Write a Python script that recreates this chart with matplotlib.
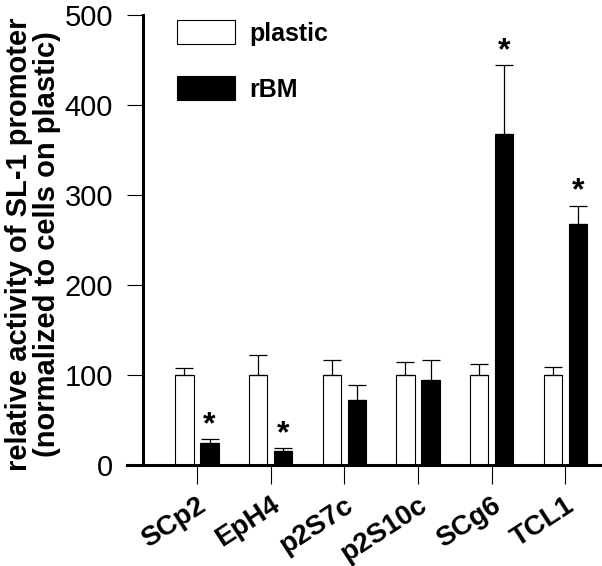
import numpy as np
import matplotlib
matplotlib.use("Agg")
import matplotlib.pyplot as plt
import matplotlib.transforms as mtransforms

plt.rcParams['font.family'] = ['Liberation Sans', 'DejaVu Sans']

cell_lines = ["SCp2", "EpH4", "p2S7c", "p2S10c", "SCg6", "TCL1"]
plastic = [100, 100, 100, 100, 100, 100]
plastic_err = [8, 22, 17, 14, 12, 9]
rbm = [25, 16, 72, 94, 368, 268]
rbm_err = [4, 3, 17, 23, 76, 20]
significant = [True, True, False, False, True, True]

fig = plt.figure(figsize=(6.02, 5.66), dpi=100)
ax = fig.add_axes([127 / 602, 1 - 465 / 566, 473 / 602, 450 / 566])

x = np.arange(len(cell_lines))
w = 0.25
off = 0.17
err_kw = dict(elinewidth=0.9, capsize=6.5, capthick=0.9, ecolor='black')
ax.bar(x - off, plastic, w, color='white', edgecolor='black', linewidth=0.8,
       yerr=[np.zeros(len(x)), plastic_err], error_kw=err_kw, label='plastic')
ax.bar(x + off, rbm, w, color='black', edgecolor='black', linewidth=0.8,
       yerr=[np.zeros(len(x)), rbm_err], error_kw=err_kw, label='rBM')

for i in range(len(x)):
    if significant[i]:
        ax.text(x[i] + off, rbm[i] + rbm_err[i] - 1, '*', ha='center', va='bottom',
                fontsize=23, fontweight='bold')

ax.set_xlim(-0.95, 5.47)
ax.set_ylim(0, 500)
ax.set_yticks([0, 100, 200, 300, 400, 500])
ax.set_xticks(x)
ax.set_xticklabels(cell_lines, rotation=33, ha='right', va='top',
                   rotation_mode='anchor', fontsize=20, fontweight='bold')
shift = mtransforms.ScaledTranslation(5 / 100, 0, fig.dpi_scale_trans)
for lab in ax.get_xticklabels():
    lab.set_transform(lab.get_transform() + shift)
ax.tick_params(axis='y', direction='out', length=11.5, width=0.8, labelsize=21, pad=10)
ax.tick_params(axis='x', direction='out', length=13.5, width=0.8, pad=6)

ax.spines['top'].set_visible(False)
ax.spines['right'].set_visible(False)
ax.spines['left'].set_position(('axes', 16 / 473))
ax.spines['left'].set_linewidth(2.2)
ax.spines['bottom'].set_linewidth(2.2)

ax.set_ylabel('relative activity of SL-1 promoter\n(normalized to cells on plastic)',
              fontsize=21, fontweight='bold', linespacing=1.0)
ax.yaxis.set_label_coords(-0.14, 0.49)

leg = ax.legend(loc='upper left', bbox_to_anchor=(177 / 602, 1 - 20 / 566),
                bbox_transform=fig.transFigure, frameon=False,
                prop={'weight': 'bold', 'size': 18}, handlelength=2.32,
                handleheight=1.12, labelspacing=1.22, handletextpad=0.56,
                borderpad=0, borderaxespad=0)

fig.savefig('out.png', dpi=100)
